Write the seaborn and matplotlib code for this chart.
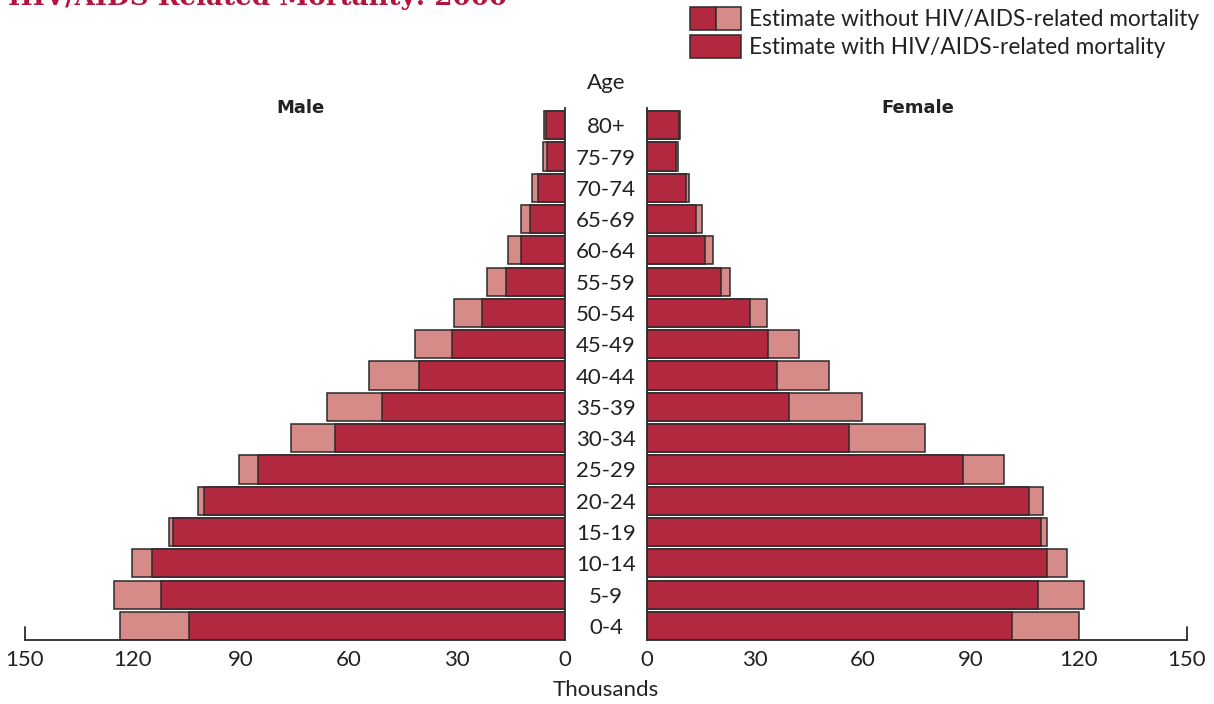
import seaborn as sns
import pandas as pd
import matplotlib.pyplot as plt
from matplotlib.patches import Rectangle

# population by age (thousands)
ages = ['80+', '75-79', '70-74', '65-69', '60-64', '55-59', '50-54', '45-49',
        '40-44', '35-39', '30-34', '25-29', '20-24', '15-19', '10-14', '5-9', '0-4']
male_without = [5.8, 6.0, 9.1, 12.3, 15.7, 21.7, 30.9, 41.7,
                54.4, 66.1, 76.0, 90.6, 101.9, 110.0, 120.4, 125.3, 123.5]
male_with = [5.4, 5.1, 7.6, 9.8, 12.1, 16.3, 23.1, 31.3,
             40.6, 50.7, 63.9, 85.3, 100.3, 109.0, 114.7, 112.2, 104.4]
female_without = [9.3, 8.5, 11.8, 15.2, 18.2, 23.1, 33.4, 42.2,
                  50.6, 59.7, 77.3, 99.1, 109.9, 111.1, 116.7, 121.3, 120.1]
female_with = [8.9, 8.0, 10.7, 13.7, 16.2, 20.5, 28.7, 33.7,
               36.1, 39.4, 56.1, 87.8, 106.0, 109.4, 111.0, 108.5, 101.3]
ticks = [0, 30, 60, 90, 120, 150]

DARK = '#b2293f'
PINK = '#d68b89'
EDGE = '#2b2b2b'
TXT = '#222222'

sns.set_style('white')
plt.rcParams['font.family'] = ['Lato', 'DejaVu Sans']

W, H = 1214, 704
fig = plt.figure(figsize=(W / 100, H / 100), dpi=100)


def fx(px):
    return px / W


def fy(py):
    return 1 - py / H


male = pd.DataFrame({'age': ages, 'without': male_without, 'with': male_with})
female = pd.DataFrame({'age': ages, 'without': female_without, 'with': female_with})

ax_m = fig.add_axes([fx(25), fy(640), 540 / W, 532 / H])
ax_f = fig.add_axes([fx(647), fy(640), 540 / W, 532 / H])

bar_kw = dict(y='age', order=ages, orient='h', width=0.9, saturation=1,
              edgecolor=EDGE, linewidth=1.1)
for ax, df in [(ax_m, male), (ax_f, female)]:
    sns.barplot(data=df, x='without', color=PINK, ax=ax, **bar_kw)
    sns.barplot(data=df, x='with', color=DARK, ax=ax, **bar_kw)
    ax.set_ylim(16.45, -0.55)
    ax.set_xticks(ticks)
    ax.set_xticklabels([str(t) for t in ticks])
    ax.tick_params(axis='x', length=0, pad=7, labelsize=16, colors=TXT)
    ax.set_xlabel('')
    ax.set_ylabel('')
    for s in ax.spines.values():
        s.set_color(EDGE)
        s.set_linewidth(1.3)
    ax.spines['top'].set_visible(False)
    # small end tick at 150
    ax.axvline(150, 0, 13 / 532, color=EDGE, lw=1.3, clip_on=False)

ax_m.set_xlim(150, 0)
ax_f.set_xlim(0, 150)
ax_m.spines['left'].set_visible(False)
ax_f.spines['right'].set_visible(False)

# age labels centred in the gap between the halves
ax_m.yaxis.set_ticks_position('right')
ax_m.tick_params(axis='y', length=0, pad=29.5, labelsize=16, colors=TXT)
for lab in ax_m.get_yticklabels():
    lab.set_horizontalalignment('center')
ax_f.set_yticks([])

fig.text(fx(606), fy(83), 'Age', ha='center', va='center', fontsize=16, color=TXT)
fig.text(fx(300), fy(108), 'Male', ha='center', va='center', fontsize=13,
         fontweight='bold', family='DejaVu Sans', color=TXT)
fig.text(fx(918), fy(108), 'Female', ha='center', va='center', fontsize=13,
         fontweight='bold', family='DejaVu Sans', color=TXT)
fig.text(fx(606), fy(690), 'Thousands', ha='center', va='center', fontsize=16, color=TXT)

# title, cut by the top edge as in the source
fig.text(fx(8), fy(5), 'HIV/AIDS Related Mortality: 2000', ha='left', va='baseline',
         fontsize=18.8, fontweight='bold', family='DejaVu Serif', color='#b5123c')

# legend
sw_h = 23
fig.patches.append(Rectangle((fx(690), fy(30)), 26 / W, sw_h / H, transform=fig.transFigure,
                             facecolor=DARK, edgecolor=EDGE, lw=1.1))
fig.patches.append(Rectangle((fx(716), fy(30)), 25 / W, sw_h / H, transform=fig.transFigure,
                             facecolor=PINK, edgecolor=EDGE, lw=1.1))
fig.patches.append(Rectangle((fx(690), fy(58)), 51 / W, sw_h / H, transform=fig.transFigure,
                             facecolor=DARK, edgecolor=EDGE, lw=1.1))
fig.text(fx(749), fy(19), 'Estimate without HIV/AIDS-related mortality', ha='left',
         va='center', fontsize=16.3, color=TXT)
fig.text(fx(749), fy(47), 'Estimate with HIV/AIDS-related mortality', ha='left',
         va='center', fontsize=16.3, color=TXT)

fig.savefig('out.png', dpi=100)
